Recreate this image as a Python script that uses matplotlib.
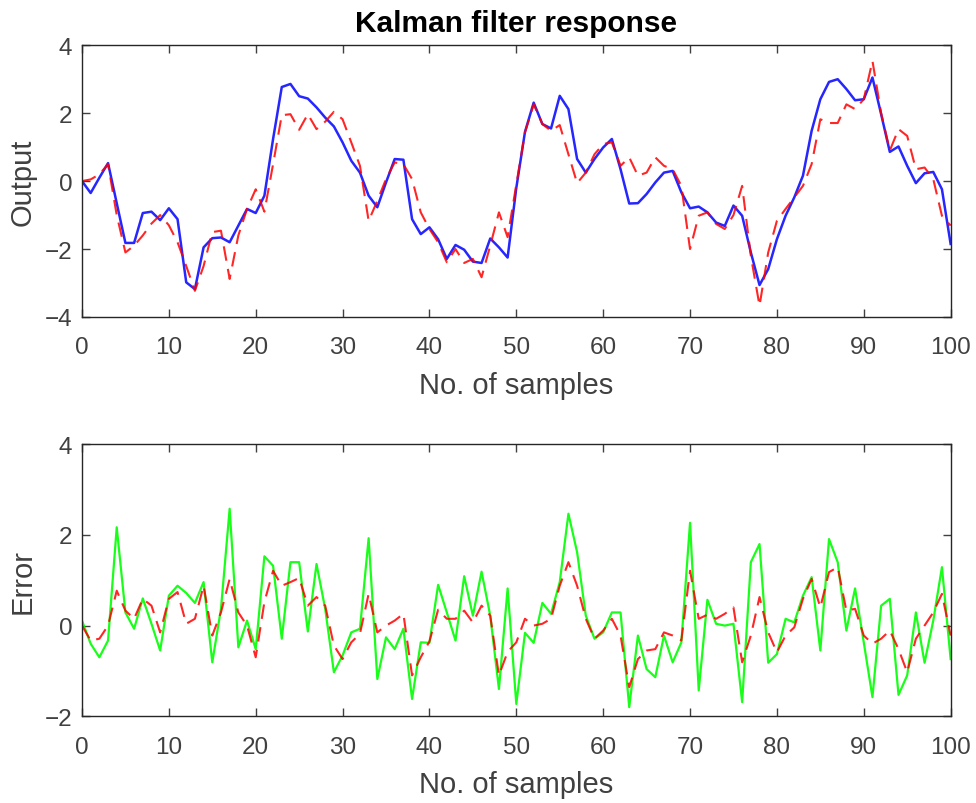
import matplotlib
matplotlib.use("Agg")
import matplotlib.pyplot as plt
import numpy as np

# samples 0..100
samples = np.arange(101)

# top: filtered estimate (blue) and measured output (red dashed)
output_est = [
    0.0, -0.35, 0.1, 0.53, -0.65, -1.82, -1.82, -0.94, -0.9, -1.15,
    -0.8, -1.12, -2.98, -3.18, -1.95, -1.68, -1.66, -1.8, -1.31, -0.82,
    -0.94, -0.43, 1.24, 2.77, 2.86, 2.5, 2.43, 2.17, 1.87, 1.61,
    1.14, 0.6, 0.25, -0.43, -0.77, -0.04, 0.65, 0.63, -1.12, -1.56,
    -1.36, -1.71, -2.29, -1.88, -2.02, -2.37, -2.41, -1.69, -1.95, -2.25,
    -0.2, 1.45, 2.31, 1.68, 1.55, 2.51, 2.12, 0.65, 0.25, 0.65,
    0.99, 1.24, 0.35, -0.66, -0.65, -0.38, -0.04, 0.25, 0.3, -0.33,
    -0.8, -0.75, -0.92, -1.22, -1.32, -0.72, -1.02, -2.1, -3.06, -2.59,
    -1.71, -1.02, -0.48, 0.16, 1.48, 2.41, 2.92, 3.0, 2.71, 2.38,
    2.41, 3.05, 1.97, 0.86, 1.02, 0.45, -0.06, 0.23, 0.27, -0.24,
    -1.85,
]
output_meas = [
    0.0, 0.05, 0.2, 0.5, -1.0, -2.1, -1.9, -1.6, -1.25, -1.0,
    -1.3, -1.8, -2.5, -3.23, -2.5, -1.5, -1.46, -2.88, -1.6, -0.82,
    -0.24, -0.9, 0.5, 1.94, 1.97, 1.51, 1.97, 1.53, 1.75, 2.04,
    1.82, 1.14, 0.45, -1.17, -0.58, 0.06, 0.55, 0.5, 0.06, -0.92,
    -1.41, -1.8, -2.39, -2.0, -2.41, -2.29, -2.83, -1.9, -0.92, -1.65,
    -0.1, 1.43, 2.26, 1.68, 1.48, 1.65, 0.79, -0.06, 0.25, 0.79,
    1.09, 1.14, 0.45, 0.7, 0.16, 0.25, 0.7, 0.45, 0.35, -0.14,
    -2.0, -1.02, -0.92, -1.26, -1.41, -1.0, -0.14, -2.2, -3.67, -2.1,
    -1.17, -0.82, -0.48, -0.14, 0.5, 1.82, 1.71, 1.71, 2.26, 2.12,
    2.41, 3.54, 2.0, 0.9, 1.53, 1.33, 0.35, 0.4, 0.06, -1.02,
    -1.31,
]

# bottom: measurement error (green) and estimation error (red dashed)
err_meas = [
    0.11, -0.4, -0.7, -0.33, 2.17, 0.29, -0.07, 0.6, 0.04, -0.55,
    0.66, 0.88, 0.72, 0.5, 0.96, -0.81, 0.37, 2.58, -0.48, 0.11,
    -0.52, 1.53, 1.32, -0.29, 1.4, 1.4, -0.13, 1.36, 0.37, -1.03,
    -0.66, -0.15, -0.07, 1.93, -1.18, -0.26, -0.52, -0.07, -1.62, -0.37,
    -0.38, 0.9, 0.29, -0.33, 1.09, 0.22, 1.19, 0.22, -1.4, 0.82,
    -1.73, -0.16, -0.38, 0.5, 0.26, 0.96, 2.47, 1.62, 0.22, -0.29,
    -0.15, 0.29, 0.29, -1.8, -0.22, -0.96, -1.14, -0.22, -0.81, -0.37,
    2.27, -1.43, 0.57, 0.04, 0.0, 0.04, -1.69, 1.4, 1.8, -0.82,
    -0.63, 0.15, 0.07, 0.66, 1.07, -0.55, 1.91, 1.4, -0.11, 0.82,
    -0.37, -1.58, 0.44, 0.59, -1.53, -1.1, 0.29, -0.82, 0.11, 1.29,
    -0.74,
]
err_est = [
    0.0, -0.33, -0.29, 0.0, 0.77, 0.33, 0.15, 0.59, 0.44, -0.15,
    0.59, 0.74, 0.04, 0.15, 0.88, -0.22, 0.29, 1.03, 0.29, 0.0,
    -0.7, 0.52, 1.21, 0.88, 0.96, 1.05, 0.44, 0.63, 0.44, -0.44,
    -0.74, -0.37, -0.18, 0.7, -0.15, 0.0, 0.11, 0.26, -1.1, -0.7,
    -0.35, 0.35, 0.15, 0.15, 0.33, 0.07, 0.44, 0.22, -1.1, -0.58,
    -0.37, 0.15, 0.0, 0.04, 0.15, 0.88, 1.4, 0.88, 0.15, -0.29,
    -0.11, 0.15, -0.22, -1.36, -0.74, -0.55, -0.52, -0.15, -0.22, -0.33,
    1.21, 0.15, 0.24, 0.15, 0.26, 0.4, -0.81, -0.22, 0.63, -0.15,
    -0.59, -0.22, -0.04, 0.59, 1.03, 0.4, 1.18, 1.29, 0.33, 0.37,
    -0.22, -0.4, -0.29, -0.11, -0.52, -1.03, -0.29, 0.0, 0.29, 0.7,
    -0.22,
]

plt.rcParams["font.family"] = ["Liberation Sans", "DejaVu Sans"]
txt = "#404040"
dash = (0, (7, 4))

fig = plt.figure(figsize=(9.76, 8.04), dpi=100)
ax1 = fig.add_axes([0.084, 0.6045, 0.890, 0.338])
ax2 = fig.add_axes([0.084, 0.108, 0.890, 0.338])

ax1.plot(samples, output_est, color="#0000ff", lw=1.8, alpha=0.85)
ax1.plot(samples, output_meas, color="#ff0000", lw=1.5, linestyle=dash, alpha=0.85)
ax1.set_ylim(-4, 4)
ax1.set_yticks([-4, -2, 0, 2, 4])
ax1.set_ylabel("Output", fontsize=21, color=txt, labelpad=6)
ax1.set_title("Kalman filter response", fontsize=21.5, fontweight="bold", pad=10)

ax2.plot(samples, err_meas, color="#00ff00", lw=1.6, alpha=0.9)
ax2.plot(samples, err_est, color="#ff0000", lw=1.5, linestyle=dash, alpha=0.85)
ax2.set_ylim(-2, 4)
ax2.set_yticks([-2, 0, 2, 4])
ax2.set_ylabel("Error", fontsize=21, color=txt, labelpad=6)

for ax in (ax1, ax2):
    ax.set_xlim(0, 100)
    ax.set_xticks(range(0, 101, 10))
    ax.set_xlabel("No. of samples", fontsize=21, color=txt, labelpad=9)
    ax.tick_params(direction="in", top=True, right=True, length=6,
                   width=1, colors=txt, labelsize=17.5, pad=7)
    ax.tick_params(axis="x", pad=14)
    for sp in ax.spines.values():
        sp.set_color("#262626")
        sp.set_linewidth(1)

fig.savefig("out.png", dpi=100)
